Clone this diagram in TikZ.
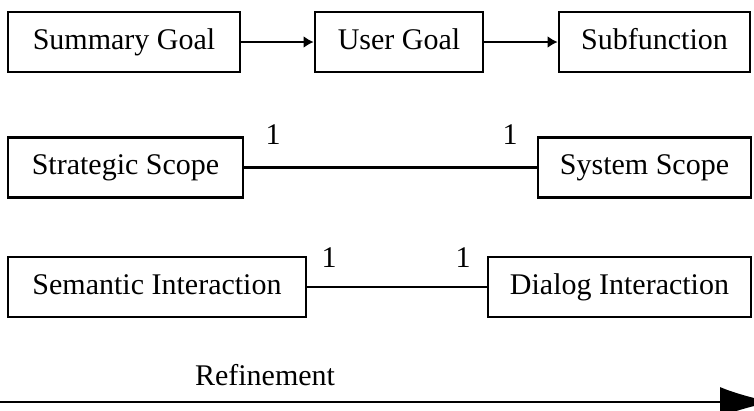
\documentclass[tikz,border=0pt]{standalone}
\usepackage{fontspec}
\setmainfont{Liberation Serif}
\usetikzlibrary{arrows.meta}
\begin{document}
\begin{tikzpicture}[x = 1pt, y = -1pt,
    box/.style = {draw, line width = 2.8pt, inner sep = 0pt, minimum height = 60pt,
      text height = 20pt, text depth = 6pt},
    link/.style = {line width = 2.2pt},
    every node/.style = {font = \fontsize{30}{36}\selectfont}]
  \clip (0,0) rectangle (754,410);
  % goal levels
  \node [box, minimum width = 232pt] (sumgoal) at (124,42) {Summary Goal};
  \node [box, minimum width = 168pt] (usergoal) at (399,42) {User Goal};
  \node [box, minimum width = 191pt] (subfunc) at (654.5,42) {Subfunction};
  \draw [link, -{Latex[length = 10pt, width = 12pt]}] (sumgoal) -- (usergoal);
  \draw [link, -{Latex[length = 10pt, width = 12pt]}] (usergoal) -- (subfunc);
  % scopes
  \node [box, minimum width = 235pt] (stratscope) at (125.5,167.5) {Strategic Scope};
  \node [box, minimum width = 213pt] (sysscope) at (644.5,167.5) {System Scope};
  \draw [link] (stratscope) -- (sysscope);
  \node (m1) at (273,135) {1};
  \node (m2) at (510,135) {1};
  % interactions
  \node [box, minimum width = 298pt] (semint) at (157,287) {Semantic Interaction};
  \node [box, minimum width = 263pt] (dialint) at (619.5,287) {Dialog Interaction};
  \draw [link] (semint) -- (dialint);
  \node (m3) at (329,258) {1};
  \node (m4) at (463,258) {1};
  % refinement
  \node (refine) at (265,375) {Refinement};
  \coordinate (rstart) at (0,402);
  \coordinate (rend) at (772,402);
  \draw [link, -{Latex[length = 52pt, width = 30pt]}] (rstart) -- (rend);
\end{tikzpicture}
\end{document}
